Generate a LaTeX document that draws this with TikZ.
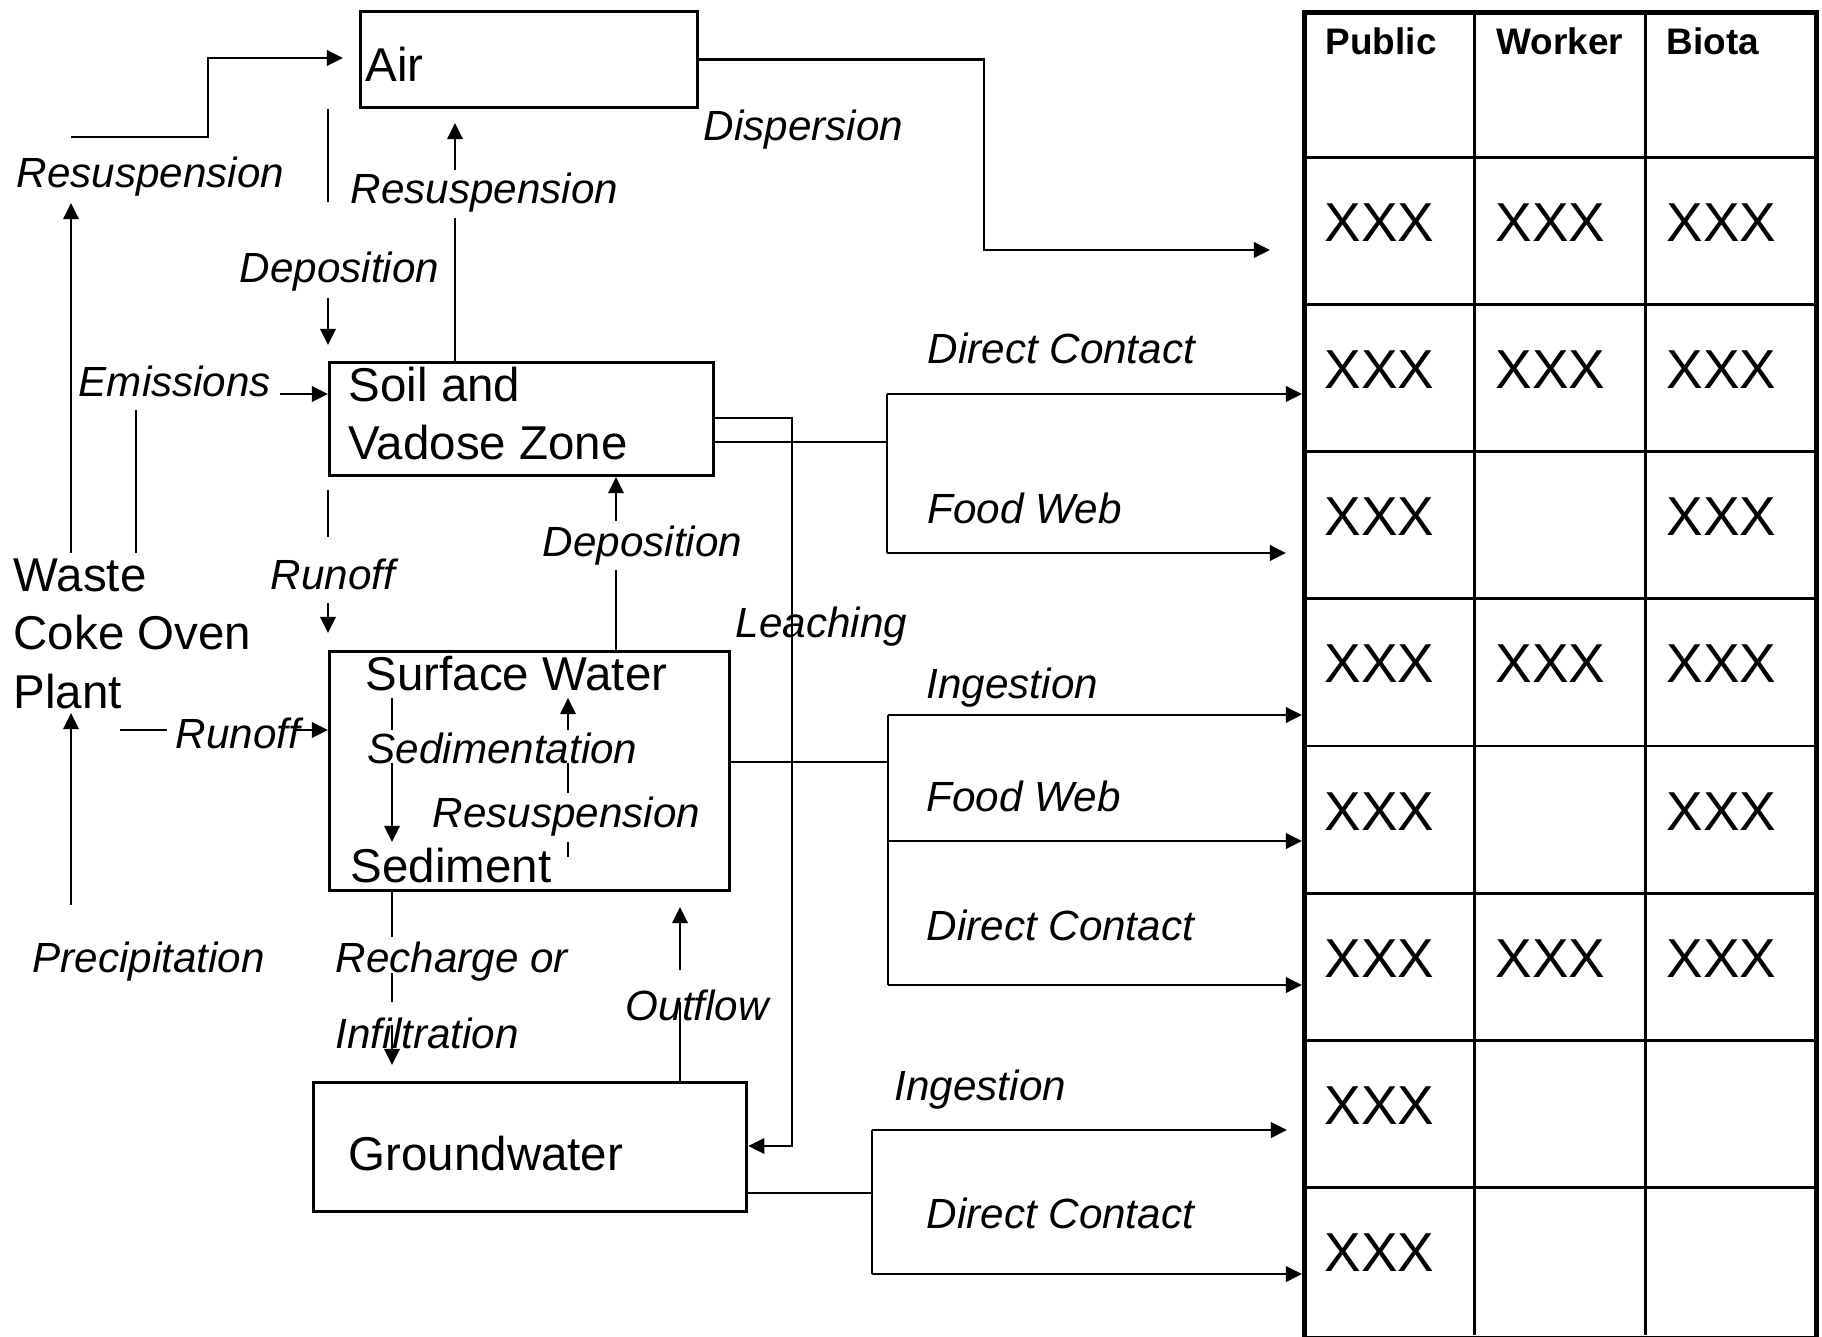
\documentclass[tikz,border=0pt]{standalone}
\usepackage{fontspec}
\setmainfont{Liberation Sans}
\usetikzlibrary{arrows.meta}

\tikzset{
  box/.style={draw, line width=0.85pt, anchor=north west, inner sep=0pt},
  boxtext/.style={anchor=base west, inner sep=0pt, align=left, font=\fontsize{13.5}{16.5}\selectfont},
  lbl/.style={anchor=base west, inner sep=0pt, font=\fontsize{12}{14}\selectfont\itshape},
  flow/.style={line width=0.7pt},
  arr/.style={flow, -{Triangle[length=4.6pt,width=4.4pt]}},
  hdr/.style={anchor=base west, inner sep=0pt, font=\fontsize{10.5}{12}\selectfont\bfseries},
  xcell/.style={anchor=base west, inner sep=0pt, font=\fontsize{15.6}{18}\selectfont},
  cellline/.style={line width=0.85pt}
}

\begin{document}
\begin{tikzpicture}[x=0.01cm, y=-0.01cm]
\useasboundingbox (0,0) rectangle (1822,1337);

\node[box, minimum width=3.37cm, minimum height=0.96cm] (air) at (359,10) {};
\node[box, minimum width=3.84cm, minimum height=1.13cm] (soil) at (328,361) {};
\node[box, minimum width=4.00cm, minimum height=2.39cm] (sw) at (328,650) {};
\node[box, minimum width=4.33cm, minimum height=1.29cm] (gw) at (312,1081) {};
\node[draw, line width=1.3pt, anchor=north west, inner sep=0pt,
      minimum width=5.12cm, minimum height=13.25cm] (tbl) at (1302,10) {};

\node[boxtext] (airtxt) at (365,82) {Air};
\node[boxtext] (soiltxt) at (348,460) {Soil and\\Vadose Zone};
\node[boxtext] (swtxt) at (365,690) {Surface Water};
\node[boxtext] (sedtxt) at (350,882) {Sediment};
\node[boxtext] (gwtxt) at (348,1170) {Groundwater};
\node[boxtext] (waste) at (13,708) {Waste\\Coke Oven\\Plant};

\node[lbl] (resusA) at (16,188) {Resuspension};
\node[lbl] (resusB) at (350,204) {Resuspension};
\node[lbl] (depoA) at (239,283) {Deposition};
\node[lbl] (emis) at (78,397) {Emissions};
\node[lbl] (depoB) at (542,557) {Deposition};
\node[lbl] (runoffA) at (270,589) {Runoff};
\node[lbl] (leach) at (735,637) {Leaching};
\node[lbl] (runoffB) at (175,748) {Runoff};
\node[lbl] (sedim) at (367,763) {Sedimentation};
\node[lbl] (resusC) at (432,827) {Resuspension};
\node[lbl] (precip) at (32,972) {Precipitation};
\node[lbl] (recharge) at (335,972) {Recharge or};
\node[lbl] (infil) at (335,1048) {Infiltration};
\node[lbl] (outflow) at (625,1020) {Outflow};
\node[lbl] (disp) at (703,141) {Dispersion};
\node[lbl] (soilDC) at (927,364) {Direct Contact};
\node[lbl] (soilFW) at (927,524) {Food Web};
\node[lbl] (swIng) at (926,698) {Ingestion};
\node[lbl] (swFW) at (926,811) {Food Web};
\node[lbl] (swDC) at (926,940) {Direct Contact};
\node[lbl] (gwIng) at (894,1100) {Ingestion};
\node[lbl] (gwDC) at (926,1228) {Direct Contact};

\coordinate (w1) at (71,553);
\coordinate (w2) at (71,203);
\coordinate (w3) at (71,137);
\coordinate (w4) at (208,58);
\coordinate (w5) at (343,58);
\draw[arr] (w1) -- (w2);
\draw[arr] (w3) -| (w4) -- (w5);

\coordinate (ad1) at (328,202);
\coordinate (ad2) at (328,298);
\coordinate (ad3) at (328,345);
\draw[flow] (air.south -| ad1) -- (ad1);
\draw[arr] (ad2) -- (ad3);

\coordinate (sa1) at (455,218);
\coordinate (sa2) at (455,170);
\coordinate (sa3) at (455,123);
\draw[flow] (soil.north -| sa1) -- (sa1);
\draw[arr] (sa2) -- (sa3);

\coordinate (e1) at (136,553);
\coordinate (e2) at (136,410);
\coordinate (e3) at (280,394);
\draw[flow] (e1) -- (e2);
\draw[arr] (e3) -- (e3 -| soil.west);

\coordinate (r1) at (328,490);
\coordinate (r2) at (328,537);
\coordinate (r3) at (328,603);
\coordinate (r4) at (328,633);
\draw[flow] (r1) -- (r2);
\draw[arr] (r3) -- (r4);

\coordinate (d1) at (616,570);
\coordinate (d2) at (616,521);
\draw[flow] (sw.north -| d1) -- (d1);
\draw[arr] (d2) -- (d2 |- soil.south);

\coordinate (ro1) at (120,730);
\coordinate (ro2) at (167,730);
\coordinate (ro3) at (294,730);
\draw[flow] (ro1) -- (ro2);
\draw[arr] (ro3) -- (ro3 -| sw.west);

\coordinate (p1) at (71,905);
\coordinate (p2) at (71,713);
\draw[arr] (p1) -- (p2);

\coordinate (sd1) at (392,698);
\coordinate (sd2) at (392,730);
\coordinate (sd3) at (392,763);
\coordinate (sd4) at (392,842);
\draw[flow] (sd1) -- (sd2);
\draw[arr] (sd3) -- (sd4);

\coordinate (rs1) at (568,857);
\coordinate (rs2) at (568,842);
\coordinate (rs3) at (568,793);
\coordinate (rs4) at (568,763);
\coordinate (rs5) at (568,730);
\coordinate (rs6) at (568,698);
\draw[flow] (rs1) -- (rs2);
\draw[flow] (rs3) -- (rs4);
\draw[arr] (rs5) -- (rs6);

\coordinate (l1) at (792,418);
\coordinate (l2) at (792,1146);
\draw[arr] (l1 -| soil.east) -- (l1) -- (l2) -- (l2 -| gw.east);

\coordinate (dp1) at (984,250);
\coordinate (dp2) at (1270,250);
\draw[arr] (air.east) -| (dp1) -- (dp2);

\coordinate (sb) at (887,442);
\coordinate (sb1) at (887,394);
\coordinate (sb2) at (887,553);
\coordinate (sb3) at (1286,553);
\draw[flow] (sb -| soil.east) -- (sb);
\draw[flow] (sb1) -- (sb2);
\draw[arr] (sb1) -- (sb1 -| tbl.west);
\draw[arr] (sb2) -- (sb3);

\coordinate (wb) at (888,762);
\coordinate (wb1) at (888,715);
\coordinate (wb2) at (888,841);
\coordinate (wb3) at (888,985);
\draw[flow] (wb -| sw.east) -- (wb);
\draw[flow] (wb1) -- (wb3);
\foreach \c in {wb1,wb2,wb3}
  \draw[arr] (\c) -- (\c -| tbl.west);

\coordinate (rc1) at (392,937);
\coordinate (rc2) at (392,973);
\coordinate (rc3) at (392,1002);
\coordinate (rc4) at (392,1025);
\coordinate (rc5) at (392,1065);
\draw[flow] (sw.south -| rc1) -- (rc1);
\draw[flow] (rc2) -- (rc3);
\draw[arr] (rc4) -- (rc5);

\coordinate (of1) at (680,1002);
\coordinate (of2) at (680,970);
\coordinate (of3) at (680,907);
\draw[flow] (gw.north -| of1) -- (of1);
\draw[arr] (of2) -- (of3);

\coordinate (gb) at (872,1193);
\coordinate (gb1) at (872,1130);
\coordinate (gb2) at (872,1274);
\coordinate (gb3) at (1287,1130);
\draw[flow] (gb -| gw.east) -- (gb);
\draw[flow] (gb1) -- (gb2);
\draw[arr] (gb1) -- (gb3);
\draw[arr] (gb2) -- (gb2 -| tbl.west);

\foreach \k in {1,...,8}
  \draw[cellline] (1302,{10+\k*147.2}) -- (1814,{10+\k*147.2});
\draw[cellline] (1474,10) -- (1474,1335);
\draw[cellline] (1645,10) -- (1645,1335);

\node[hdr] (pub) at (1325,55) {Public};
\node[hdr] (wrk) at (1496,55) {Worker};
\node[hdr] (bio) at (1666,55) {Biota};

\foreach \r/\c in {1/1,1/2,1/3,2/1,2/2,2/3,3/1,3/3,4/1,4/2,4/3,5/1,5/3,6/1,6/2,6/3,7/1,8/1}
  \node[xcell] at ({1324+(\c-1)*171},{94+\r*147.2}) {XXX};

\end{tikzpicture}
\end{document}
